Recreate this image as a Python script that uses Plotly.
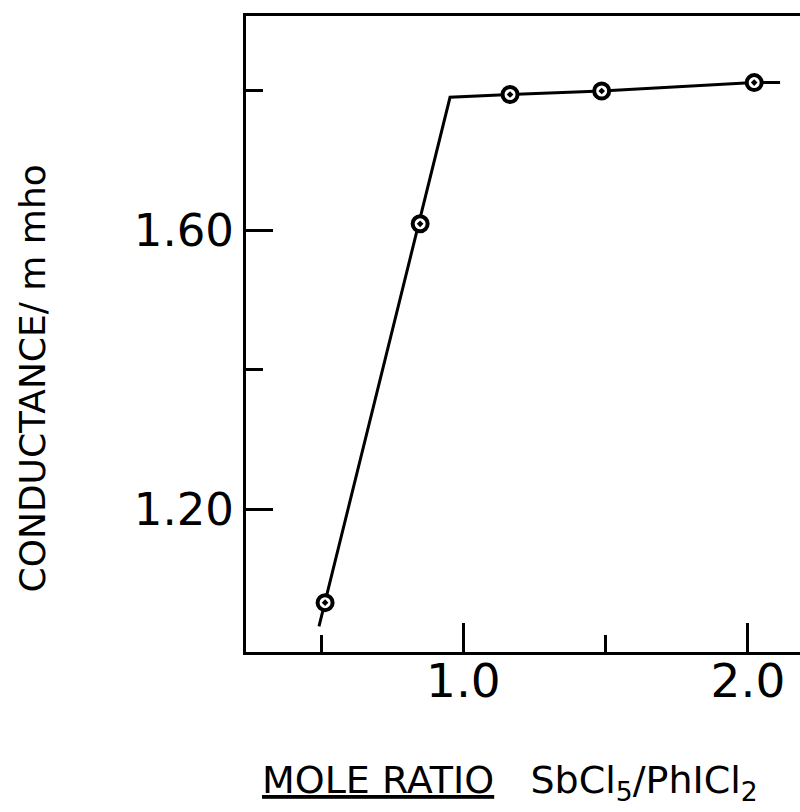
import plotly.graph_objects as go

# measured data points
mole_ratio = [0.514, 0.848, 1.164, 1.486, 2.022]
conductance = [1.067, 1.609, 1.794, 1.799, 1.811]

# hand-drawn straight-line fit (vertices)
fit_x = [0.4925, 0.953, 1.164, 1.486, 2.022, 2.113]
fit_y = [1.033, 1.790, 1.794, 1.799, 1.811, 1.811]

x_major = [1.0, 2.0]
x_major_text = ["1.0", "2.0"]
x_minor = [0.5, 1.5]
y_major = [1.2, 1.6]
y_major_text = ["1.20", "1.60"]
y_minor = [1.4, 1.8]

FONT = "DejaVu Sans"

L, T, B = 246, 16, 160
W, H = 800, 812

fig = go.Figure()
fig.add_trace(go.Scatter(x=fit_x, y=fit_y, mode="lines",
                         line=dict(color="black", width=3),
                         hoverinfo="skip", showlegend=False))
fig.add_trace(go.Scatter(x=mole_ratio, y=conductance, mode="markers",
                         marker=dict(symbol="circle-dot", size=15, color="white",
                                     line=dict(color="black", width=4)),
                         showlegend=False))

plot_w = W - L
plot_h = H - T - B

fig.update_layout(
    width=W, height=H,
    margin=dict(l=L, r=0, t=T, b=B, pad=0),
    plot_bgcolor="white", paper_bgcolor="white",
    font=dict(family=FONT, color="black"),
    annotations=[
        dict(text="CONDUCTANCE/ m mho", textangle=-90,
             xref="paper", yref="paper",
             x=(32 - L) / plot_w, y=(H - B - 378.5) / plot_h,
             xanchor="center", yanchor="middle", showarrow=False,
             font=dict(size=36, family=FONT)),
        dict(text="<u>MOLE RATIO</u>   SbCl<sub>5</sub>/PhICl<sub>2</sub>",
             xref="paper", yref="paper",
             x=(510 - L) / plot_w, y=(H - B - 782) / plot_h,
             xanchor="center", yanchor="middle", showarrow=False,
             font=dict(size=38, family=FONT)),
    ],
)
fig.update_xaxes(
    range=[0.236, 2.183], showgrid=False, zeroline=False, automargin=False,
    showline=True, linecolor="black", linewidth=3, mirror=True,
    tickmode="array", tickvals=x_major, ticktext=x_major_text,
    ticks="inside", ticklen=29, tickwidth=3, tickcolor="black",
    tickfont=dict(size=47, family=FONT), ticklabelstandoff=-14,
    minor=dict(tickmode="array", tickvals=x_minor, ticks="inside",
               ticklen=17, tickwidth=3, tickcolor="black", showgrid=False),
)
fig.update_yaxes(
    range=[0.9964, 1.9063], showgrid=False, zeroline=False, automargin=False,
    showline=True, linecolor="black", linewidth=3, mirror=False,
    tickmode="array", tickvals=y_major, ticktext=y_major_text,
    ticks="inside", ticklen=27, tickwidth=3, tickcolor="black",
    tickfont=dict(size=45, family=FONT),
    minor=dict(tickmode="array", tickvals=y_minor, ticks="inside",
               ticklen=17, tickwidth=3, tickcolor="black", showgrid=False),
)

fig.write_html("out.html", config={"displayModeBar": False},
               post_script="document.body.style.margin='0';document.body.style.overflow='hidden';")
